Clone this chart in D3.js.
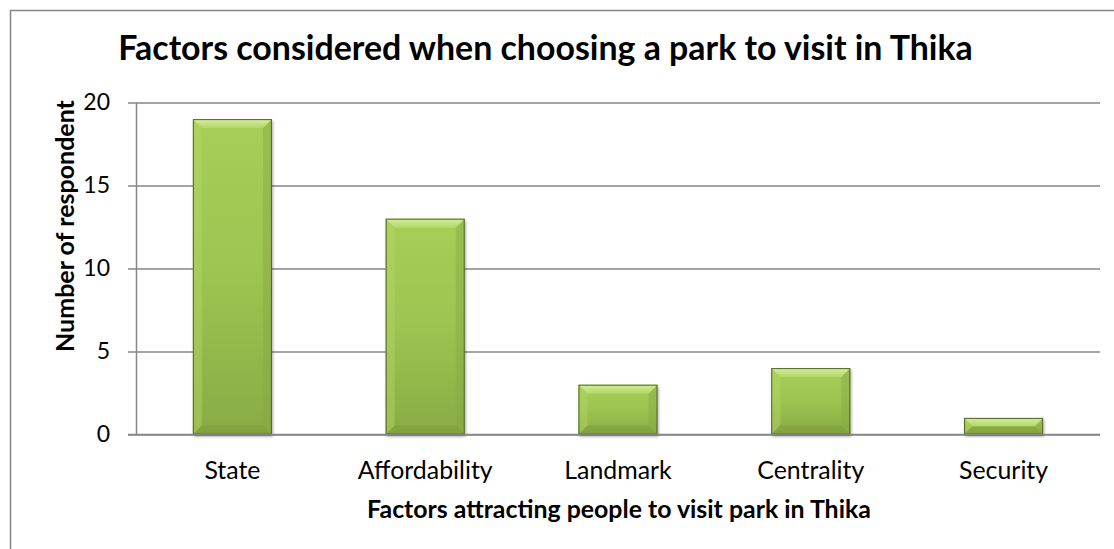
<!DOCTYPE html>
<html>
<head>
<meta charset="utf-8">
<script src="https://cdn.jsdelivr.net/npm/d3@7"></script>
<style>
  html, body { margin: 0; padding: 0; background: #ffffff; }
  svg { display: block; }
  text { font-family: Lato, "Open Sans", sans-serif; fill: #000; }
</style>
</head>
<body>
<svg id="chart" width="1114" height="549"></svg>
<script>
// Survey data: factors attracting people to visit a park in Thika
const categories = ["State", "Affordability", "Landmark", "Centrality", "Security"];
const respondents = [19, 13, 3, 4, 1];
const yTicks = [0, 5, 10, 15, 20];

const titleText = "Factors considered when choosing a park to visit in Thika";
const xTitleText = "Factors attracting people to visit park in Thika";
const yTitleText = "Number of respondent";

const W = 1114, H = 549;
const plot = { left: 136, right: 1100, top: 102.5, bottom: 434.5 };
const gridColor = "#868686";

const svg = d3.select("#chart");

// Chart area border (top and left edges visible, the rest runs off the page)
svg.append("rect")
  .attr("x", 10.5).attr("y", 10.5)
  .attr("width", W + 20).attr("height", H + 20)
  .attr("fill", "#fff").attr("stroke", gridColor).attr("stroke-width", 1.5);

// Gradients and shadow for the bevelled bars
const defs = svg.append("defs");
function vGrad(id, stops) {
  const g = defs.append("linearGradient").attr("id", id)
    .attr("x1", 0).attr("y1", 0).attr("x2", 0).attr("y2", 1);
  stops.forEach(([o, c]) => g.append("stop").attr("offset", o).attr("stop-color", c));
}
vGrad("bodyGrad", [[0, "#a8ce58"], [0.5, "#9dc351"], [1, "#8aab44"]]);
vGrad("topGrad", [[0, "#d5ed9c"], [1, "#b2d76a"]]);
const shadow = defs.append("filter").attr("id", "barShadow")
  .attr("x", "-10%").attr("y", "-10%").attr("width", "130%").attr("height", "130%");
shadow.append("feDropShadow")
  .attr("dx", 1).attr("dy", 2).attr("stdDeviation", 1.6)
  .attr("flood-color", "#000").attr("flood-opacity", 0.35);

// Scales
const x = d3.scaleBand()
  .domain(categories)
  .range([plot.left, plot.right])
  .paddingInner(0.59)
  .paddingOuter(0.295);

const y = d3.scaleLinear()
  .domain([0, 20])
  .range([plot.bottom, plot.top]);

// Horizontal gridlines
const grid = svg.append("g")
  .attr("transform", `translate(${plot.left},0)`)
  .call(d3.axisLeft(y).tickValues(yTicks).tickSize(-(plot.right - plot.left)).tickFormat(""));
grid.select(".domain").remove();
grid.selectAll("line").attr("stroke", gridColor).attr("stroke-width", 1.5);

// Y axis with outer tick marks and labels
const yAxis = svg.append("g")
  .attr("transform", `translate(${plot.left},0)`)
  .call(d3.axisLeft(y).tickValues(yTicks).tickSize(8).tickSizeOuter(0).tickPadding(18));
yAxis.select(".domain").attr("stroke", gridColor).attr("stroke-width", 1.5);
yAxis.selectAll("line").attr("stroke", gridColor).attr("stroke-width", 1.5);
yAxis.selectAll("text")
  .style("font-family", "Lato, sans-serif")
  .style("font-size", "23px")
  .attr("fill", "#000");

// Bars
const bars = svg.append("g").selectAll("g.bar")
  .data(categories.map((c, i) => ({ c, v: respondents[i] })))
  .join("g").attr("class", "bar");

bars.each(function (d) {
  const g = d3.select(this);
  const x0 = x(d.c), x1 = x0 + x.bandwidth();
  const y0 = y(d.v), y1 = y(0);
  const h = y1 - y0, w = x1 - x0;
  const b = Math.min(9, h / 2, w / 2);

  g.append("rect")
    .attr("x", x0).attr("y", y0).attr("width", w).attr("height", h)
    .attr("fill", "url(#bodyGrad)")
    .attr("filter", "url(#barShadow)");

  const poly = (pts, fill, op) => g.append("polygon")
    .attr("points", pts.map(p => p.join(",")).join(" "))
    .attr("fill", fill).attr("fill-opacity", op);

  // left, right, bottom and top bevel facets
  poly([[x0, y0], [x0 + b, y0 + b], [x0 + b, y1 - b], [x0, y1]], "#b3d767", 0.45);
  poly([[x1, y0], [x1 - b, y0 + b], [x1 - b, y1 - b], [x1, y1]], "#88a943", 0.45);
  poly([[x0, y1], [x0 + b, y1 - b], [x1 - b, y1 - b], [x1, y1]], "#7e9d3b", 0.6);
  poly([[x0, y0], [x1, y0], [x1 - b, y0 + b], [x0 + b, y0 + b]], "url(#topGrad)", 1);

  g.append("rect")
    .attr("x", x0 + 0.5).attr("y", y0 + 0.5).attr("width", w - 1).attr("height", h - 1)
    .attr("fill", "none").attr("stroke", "#52662a").attr("stroke-width", 1);
});

// Baseline redrawn over the bars' bottoms
svg.append("line")
  .attr("x1", plot.left - 8).attr("x2", plot.right)
  .attr("y1", y(0)).attr("y2", y(0))
  .attr("stroke", gridColor).attr("stroke-width", 1.5);

// Scale a text's font size so it spans a given width
function fitWidth(sel, target) {
  const base = parseFloat(sel.style("font-size"));
  const len = sel.node().getComputedTextLength();
  sel.style("font-size", (base * target / len) + "px");
}

// Category labels
const catLabels = svg.append("g").selectAll("text")
  .data(categories)
  .join("text")
  .attr("x", d => x(d) + x.bandwidth() / 2)
  .attr("y", 479)
  .attr("text-anchor", "middle")
  .style("font-size", "20px")
  .text(d => d);
{
  const aff = catLabels.filter(d => d === "Affordability");
  const base = 20, len = aff.node().getComputedTextLength();
  catLabels.style("font-size", (base * 135 / len) + "px");
}

// Chart title
const title = svg.append("text")
  .attr("x", 545.5).attr("y", 60)
  .attr("text-anchor", "middle")
  .style("font-weight", "bold").style("font-size", "24px")
  .text(titleText);
fitWidth(title, 855);

// X axis title
const xTitle = svg.append("text")
  .attr("x", 619).attr("y", 518)
  .attr("text-anchor", "middle")
  .style("font-weight", "bold").style("font-size", "20px")
  .text(xTitleText);
fitWidth(xTitle, 504);

// Y axis title
const yTitle = svg.append("text")
  .attr("transform", "translate(74,226) rotate(-90)")
  .attr("text-anchor", "middle")
  .style("font-weight", "bold").style("font-size", "20px")
  .text(yTitleText);
fitWidth(yTitle, 252);
</script>
</body>
</html>
